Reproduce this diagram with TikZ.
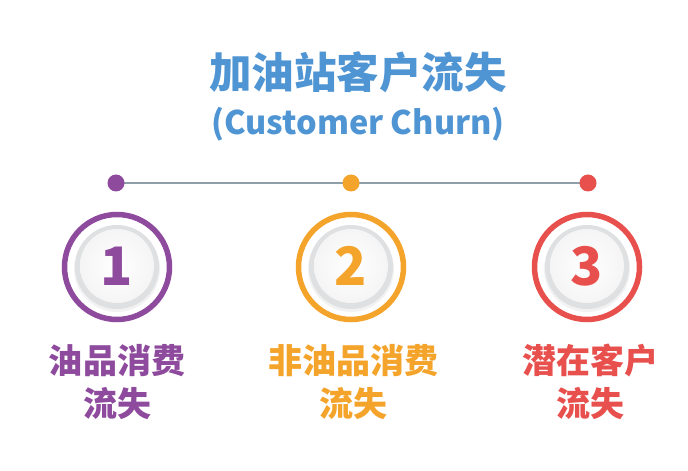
\documentclass[tikz,border=0pt]{standalone}
\usepackage{fontspec}
\setmainfont{Noto Sans CJK SC}
\usetikzlibrary{shadings}
\definecolor{cpurple}{HTML}{8E4A9C}
\definecolor{corange}{HTML}{F4A42A}
\definecolor{cred}{HTML}{E8504E}
\definecolor{cblue}{HTML}{4F95D3}
\definecolor{cline}{HTML}{8F9FA9}
\definecolor{rimgray}{HTML}{DFE0E1}
\tikzset{
  dot/.style={circle, fill=#1, minimum size=17bp, inner sep=0pt},
  ring/.style={circle, draw=#1, line width=5.5bp, minimum size=105bp, inner sep=0pt},
  numtxt/.style={text=#1, font=\bfseries\fontsize{53bp}{58bp}\selectfont},
  label/.style={text=#1, align=center, font=\bfseries\fontsize{34bp}{43bp}\selectfont},
}
\begin{document}
\begin{tikzpicture}[x=1bp,y=-1bp]
\fill[white] (0,0) rectangle (688,471);
\useasboundingbox (0,0) rectangle (688,471);
\node[text=cblue, font=\bfseries\fontsize{42.5bp}{46bp}\selectfont] (title) at (358,72) {加油站客户流失};
\node[text=cblue, font=\bfseries\fontsize{32.5bp}{36bp}\selectfont] (sub) at (358,124) {(Customer Churn)};
% timeline
\coordinate (l1) at (116,183);
\coordinate (l3) at (588,183);
\draw[cline, line width=1.6bp] (l1) -- (l3);
\node[dot=cpurple] (d1) at (116,183) {};
\node[dot=corange] (d2) at (351,183) {};
\node[dot=cred] (d3) at (588,183) {};
% circles
\foreach \cx/\col/\n/\nm in {117/cpurple/1/c1, 351/corange/2/c2, 587/cred/3/c3}{
  \fill[gray!10] (\cx,269) circle[radius=43bp];
  \fill[rimgray] (\cx,267) circle[radius=42bp];
  \shade[inner color=white, outer color=gray!8] (\cx,266) circle[radius=37bp];
  \node[ring=\col] (\nm) at (\cx,267) {};
  \node[numtxt=\col] (n\nm) at (\cx,266) {\n};
}
% labels
\node[label=cpurple] (t1) at (117,382) {油品消费\\流失};
\node[label=corange] (t2) at (353,382) {非油品消费\\流失};
\node[label=cred] (t3) at (590,382) {潜在客户\\流失};
\end{tikzpicture}
\end{document}
